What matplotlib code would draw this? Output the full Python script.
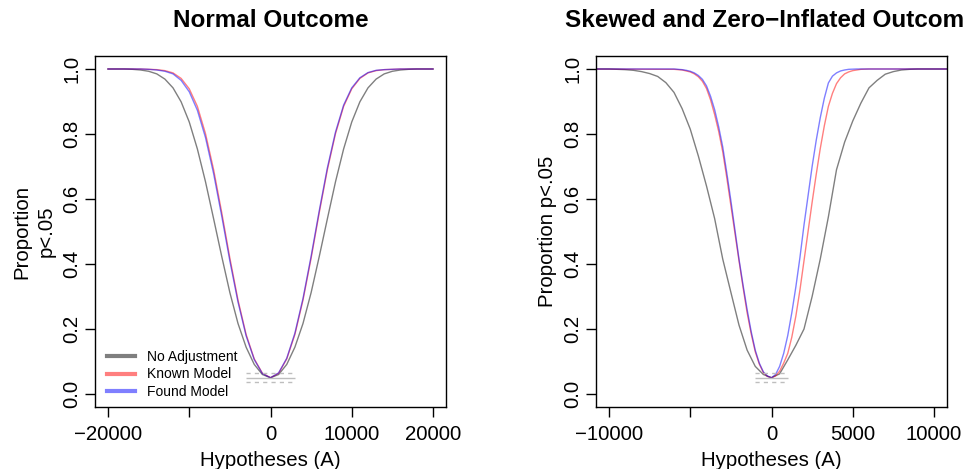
import numpy as np
import matplotlib
matplotlib.use("Agg")
from matplotlib import pyplot as plt

plt.rcParams['font.family'] = ['Liberation Sans', 'DejaVu Sans']

# ---- data ----
# left panel: normal outcome, hypotheses every 1000
normal_x = np.arange(-20000, 20001, 1000)
normal_none = [1.0, 1.0, 1.0, 0.999, 0.997, 0.993, 0.985, 0.969, 0.942, 0.899, 0.837,
               0.754, 0.653, 0.539, 0.423, 0.312, 0.217, 0.144, 0.091, 0.060, 0.050,
               0.060, 0.091, 0.144, 0.217, 0.312, 0.423, 0.539, 0.653, 0.754, 0.837,
               0.899, 0.942, 0.969, 0.985, 0.993, 0.997, 0.999, 1.0, 1.0, 1.0]
normal_known = [1.0, 1.0, 1.0, 1.0, 1.0, 0.999, 0.998, 0.995, 0.988, 0.971, 0.939,
                0.885, 0.801, 0.690, 0.558, 0.418, 0.289, 0.183, 0.108, 0.064, 0.050,
                0.064, 0.108, 0.183, 0.289, 0.418, 0.558, 0.690, 0.801, 0.885, 0.939,
                0.971, 0.988, 0.995, 0.998, 0.999, 1.0, 1.0, 1.0, 1.0, 1.0]
normal_found = [1.0, 1.0, 1.0, 1.0, 1.0, 0.999, 0.997, 0.993, 0.985, 0.965, 0.930,
                0.873, 0.789, 0.678, 0.547, 0.409, 0.283, 0.179, 0.106, 0.063, 0.050,
                0.065, 0.110, 0.187, 0.294, 0.424, 0.564, 0.696, 0.806, 0.889, 0.942,
                0.973, 0.989, 0.996, 0.998, 0.999, 1.0, 1.0, 1.0, 1.0, 1.0]

# right panel: skewed / zero-inflated outcome
# no adjustment every 500
skew_x = np.arange(-12000, 12001, 500)
skew_none = [1.0, 1.0, 1.0, 1.0, 1.0, 0.999, 0.998, 0.996, 0.992, 0.986, 0.977, 0.958,
             0.928, 0.878, 0.815, 0.732, 0.640, 0.540, 0.415, 0.313, 0.212, 0.135,
             0.085, 0.060, 0.050,
             0.062, 0.105, 0.150, 0.200, 0.300, 0.415, 0.545, 0.690, 0.775, 0.840,
             0.895, 0.942, 0.965, 0.984, 0.992, 0.997, 0.999, 1.0, 1.0, 1.0, 1.0,
             1.0, 1.0, 1.0]
# model-adjusted runs every 250 in the middle, plus the far ends
skew_fit_x = np.concatenate([[-12000], np.arange(-6000, 6001, 250), [12000]])
skew_known = [1.0,
              0.999, 0.998, 0.997, 0.994, 0.991, 0.985, 0.976, 0.962, 0.940, 0.905,
              0.860, 0.808, 0.745, 0.665, 0.580, 0.495, 0.410, 0.328, 0.250, 0.185,
              0.130, 0.092, 0.066, 0.054, 0.050,
              0.056, 0.070, 0.095, 0.125, 0.175, 0.240, 0.320, 0.410, 0.500, 0.590,
              0.675, 0.755, 0.825, 0.885, 0.925, 0.955, 0.973, 0.985, 0.991, 0.995,
              0.997, 0.999, 0.9995, 1.0,
              1.0]
skew_found = [1.0,
              1.0, 0.999, 0.998, 0.996, 0.993, 0.988, 0.980, 0.968, 0.948, 0.916,
              0.875, 0.822, 0.760, 0.680, 0.595, 0.505, 0.415, 0.335, 0.260, 0.192,
              0.135, 0.095, 0.068, 0.055, 0.050,
              0.060, 0.085, 0.125, 0.180, 0.250, 0.330, 0.420, 0.520, 0.610, 0.700,
              0.780, 0.850, 0.910, 0.957, 0.978, 0.988, 0.994, 0.997, 0.999, 0.9995,
              1.0, 1.0, 1.0, 1.0,
              1.0]

# nominal alpha and its binomial band, drawn near the minimum
alpha_lines = [0.05, 0.0365, 0.0635]

series_labels = ['No Adjustment', 'Known Model', 'Found Model']
series_colors = [(0, 0, 0, 0.5), (1, 0, 0, 0.5), (0, 0, 1, 0.5)]

fig = plt.figure(figsize=(9.64, 4.69), dpi=100)
ax1 = fig.add_axes([95 / 964, 62 / 469, 351 / 964, 351 / 469])
ax2 = fig.add_axes([596 / 964, 62 / 469, 351 / 964, 351 / 469])


def draw_panel(ax, xs, ys, title, xlim, xticks, xticklabels, band):
    for x, y, c in zip(xs, ys, series_colors):
        ax.plot(x, y, color=c, lw=1.0)
    ax.hlines(alpha_lines[0], -band, band, color='#bebebe', lw=1.0)
    for a in alpha_lines[1:]:
        ax.hlines(a, -band, band, color='#bebebe', lw=1.0, linestyles=(0, (3, 3)))
    ax.set_xlim(xlim)
    ax.set_ylim(-0.04, 1.04)
    ax.set_xticks(xticks)
    ax.set_xticklabels(xticklabels)
    ax.set_yticks([0, 0.2, 0.4, 0.6, 0.8, 1.0])
    ax.set_yticklabels(['0.0', '0.2', '0.4', '0.6', '0.8', '1.0'],
                       rotation=90, va='center')
    ax.tick_params(length=7, width=1.0, labelsize=14.7, pad=3)
    ax.tick_params(axis='x', pad=6)
    for s in ax.spines.values():
        s.set_linewidth(1.0)
    ax.set_title(title, fontsize=17.5, fontweight='bold', pad=21)
    ax.set_xlabel('Hypotheses (A)', fontsize=14.7, labelpad=5)


draw_panel(ax1, [normal_x] * 3, [normal_none, normal_known, normal_found],
           'Normal Outcome', (-21600, 21600),
           [-20000, -10000, 0, 10000, 20000],
           ['\u221220000', '', '0', '10000', '20000'], 3000)
draw_panel(ax2, [skew_x, skew_fit_x, skew_fit_x], [skew_none, skew_known, skew_found],
           'Skewed and Zero\u2212Inflated Outcome', (-10800, 10800),
           [-10000, -5000, 0, 5000, 10000],
           ['\u221210000', '', '0', '5000', '10000'], 1000)

ax1.text(-0.174, 0.5, 'Proportion\np<.05', transform=ax1.transAxes, rotation=90,
         ha='center', va='center', rotation_mode='anchor', fontsize=14.7,
         linespacing=1.4)
ax2.text(-0.138, 0.5, 'Proportion p<.05', transform=ax2.transAxes, rotation=90,
         ha='center', va='center', rotation_mode='anchor', fontsize=14.7)

handles = [plt.Line2D([], [], color=c, lw=3) for c in series_colors]
ax1.legend(handles, series_labels, loc='lower left', bbox_to_anchor=(0.034, 0.022),
           frameon=False, fontsize=10, handlelength=2.0, handletextpad=0.85,
           labelspacing=0.28, borderpad=0, borderaxespad=0)

fig.savefig('out.png', dpi=100)
